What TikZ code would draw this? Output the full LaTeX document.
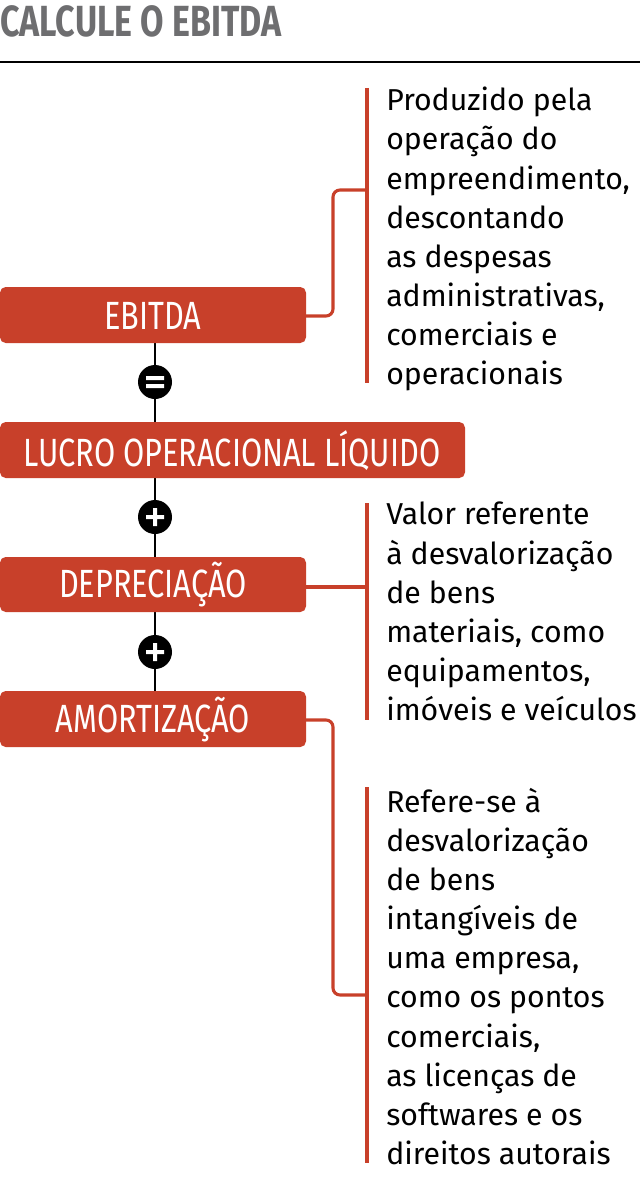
\documentclass[tikz,border=0pt]{standalone}
\usepackage{fontspec}
\setmainfont{Fira Sans}
\newfontfamily\cond{Fira Sans}[FakeStretch=0.78]
\begin{document}
\begin{tikzpicture}[x=0.025cm,y=-0.025cm,
  box/.style={fill=boxred,rounded corners=4pt,inner sep=0},
  lbl/.style={text=white,font=\cond\fontsize{28pt}{30pt}\selectfont},
  desc/.style={anchor=north west,align=left,inner sep=0,font=\fontsize{21.5pt}{27.8pt}\selectfont},
  brk/.style={draw=boxred,line width=2.2pt},
  con/.style={draw=boxred,line width=2.2pt,rounded corners=5pt},
  op/.style={circle,fill=black,minimum size=34*0.025cm,inner sep=0}]
\definecolor{boxred}{HTML}{C8402A}
\definecolor{titlegray}{HTML}{6E6E70}
\useasboundingbox (0,0) rectangle (640,1196);
\node[anchor=base west,inner sep=0,text=titlegray,font=\cond\bfseries\fontsize{31pt}{33pt}\selectfont] (title) at (0,37) {CALCULE O EBITDA};
\draw[line width=1.2pt] (0,62) coordinate (r1) -- (640,62) coordinate (r2);
% spine
\draw[line width=1.3pt] (155,343) coordinate (s1) -- (155,691) coordinate (s2);
% boxes
\path[box] (0,287) rectangle (306,343);
\node[lbl] (b1) at (153,316) {EBITDA};
\path[box] (0,422) rectangle (465,478);
\node[lbl] (b2) at (232,451) {LUCRO OPERACIONAL LÍQUIDO};
\path[box] (0,557) rectangle (306,612);
\node[lbl] (b3) at (153,585) {DEPRECIAÇÃO};
\path[box] (0,691) rectangle (306,747);
\node[lbl] (b4) at (153,720) {AMORTIZAÇÃO};
% operators
\node[op] (o1) at (155,382) {};
\fill[white] (146,376) rectangle (164,380) (146,384) rectangle (164,388);
\node[op] (o2) at (155,517) {};
\fill[white] (146,515) rectangle (164,519) (153,508) rectangle (157,526);
\node[op] (o3) at (155,652) {};
\fill[white] (146,650) rectangle (164,654) (153,643) rectangle (157,661);
% brackets
\draw[brk] (367,88) -- (367,383);
\draw[con] (306,316) -- (333,316) -- (333,190) -- (367,190);
\draw[brk] (367,503) -- (367,720);
\draw[brk] (306,587) -- (367,587);
\draw[brk] (367,787) -- (367,1163);
\draw[con] (306,720) -- (333,720) -- (333,995) -- (367,995);
% texts
\node[desc] (t1) at (386,87) {Produzido pela\\operação do\\empreendimento,\\descontando\\as despesas\\administrativas,\\comerciais e\\operacionais};
\node[desc] (t2) at (386,502) {Valor referente\\à desvalorização\\de bens\\materiais, como\\equipamentos,\\imóveis e veículos};
\node[desc] (t3) at (386,788) {Refere-se à\\desvalorização\\de bens\\intangíveis de\\uma empresa,\\como os pontos\\comerciais,\\as licenças de\\softwares e os\\direitos autorais};
\end{tikzpicture}
\end{document}
